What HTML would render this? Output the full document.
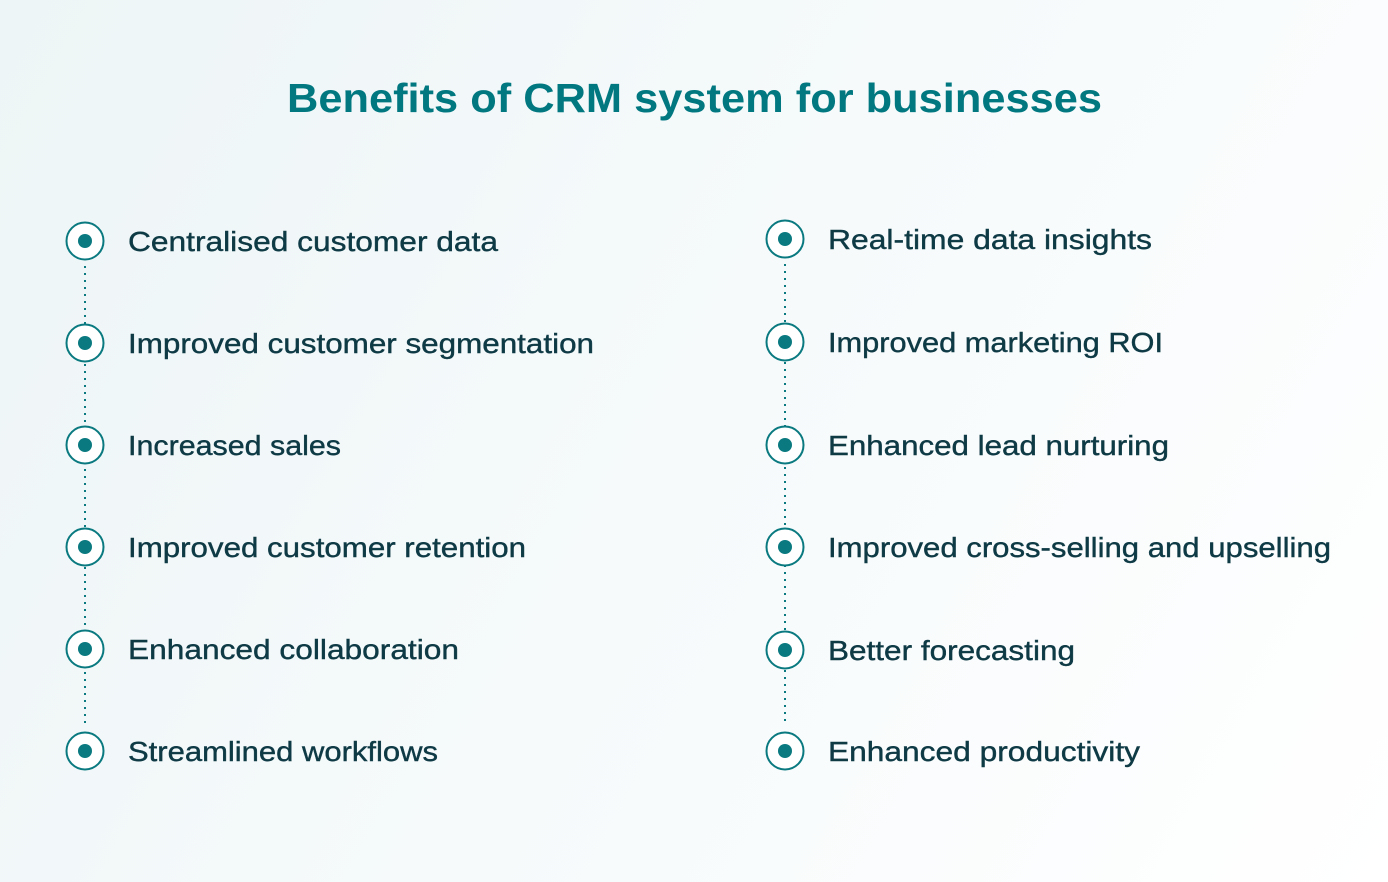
<!DOCTYPE html>
<html><head><meta charset="utf-8"><style>
html,body{margin:0;padding:0}
body{width:1388px;height:882px;overflow:hidden;background:linear-gradient(120deg,#edf5f6 0%,#f6fafb 50%,#ffffff 100%)}
svg{display:block}
text{font-family:"Liberation Sans",sans-serif}
</style></head><body>
<svg width="1388" height="882" viewBox="0 0 1388 882" xmlns="http://www.w3.org/2000/svg">
<text x="287" y="112" font-size="41" font-weight="bold" fill="#017880" textLength="815" lengthAdjust="spacingAndGlyphs">Benefits of CRM system for businesses</text>
<g stroke="#0a7a80" stroke-width="2" stroke-dasharray="2,5" fill="none">
<line x1="85" y1="266" x2="85" y2="726"/>
<line x1="785" y1="264" x2="785" y2="726"/>
</g>
<g fill="#fff" stroke="#0a7a80" stroke-width="2">
<circle cx="85" cy="241" r="18.5"/><circle cx="85" cy="343" r="18.5"/><circle cx="85" cy="445" r="18.5"/><circle cx="85" cy="547" r="18.5"/><circle cx="85" cy="649" r="18.5"/><circle cx="85" cy="751" r="18.5"/>
<circle cx="785" cy="239" r="18.5"/><circle cx="785" cy="342" r="18.5"/><circle cx="785" cy="445" r="18.5"/><circle cx="785" cy="547" r="18.5"/><circle cx="785" cy="650" r="18.5"/><circle cx="785" cy="751" r="18.5"/>
</g>
<g fill="#0a7a80">
<circle cx="85" cy="241" r="7"/><circle cx="85" cy="343" r="7"/><circle cx="85" cy="445" r="7"/><circle cx="85" cy="547" r="7"/><circle cx="85" cy="649" r="7"/><circle cx="85" cy="751" r="7"/>
<circle cx="785" cy="239" r="7"/><circle cx="785" cy="342" r="7"/><circle cx="785" cy="445" r="7"/><circle cx="785" cy="547" r="7"/><circle cx="785" cy="650" r="7"/><circle cx="785" cy="751" r="7"/>
</g>
<g font-size="28" fill="#0e3a45" stroke="#0e3a45" stroke-width="0.4">
<text x="128" y="251" textLength="370" lengthAdjust="spacingAndGlyphs">Centralised customer data</text>
<text x="128" y="353" textLength="466" lengthAdjust="spacingAndGlyphs">Improved customer segmentation</text>
<text x="128" y="455" textLength="213" lengthAdjust="spacingAndGlyphs">Increased sales</text>
<text x="128" y="557" textLength="398" lengthAdjust="spacingAndGlyphs">Improved customer retention</text>
<text x="128" y="659" textLength="331" lengthAdjust="spacingAndGlyphs">Enhanced collaboration</text>
<text x="128" y="761" textLength="310" lengthAdjust="spacingAndGlyphs">Streamlined workflows</text>
<text x="828" y="249" textLength="324" lengthAdjust="spacingAndGlyphs">Real-time data insights</text>
<text x="828" y="352" textLength="335" lengthAdjust="spacingAndGlyphs">Improved marketing ROI</text>
<text x="828" y="455" textLength="341" lengthAdjust="spacingAndGlyphs">Enhanced lead nurturing</text>
<text x="828" y="557" textLength="503" lengthAdjust="spacingAndGlyphs">Improved cross-selling and upselling</text>
<text x="828" y="660" textLength="247" lengthAdjust="spacingAndGlyphs">Better forecasting</text>
<text x="828" y="761" textLength="312" lengthAdjust="spacingAndGlyphs">Enhanced productivity</text>
</g>
</svg>
</body></html>
